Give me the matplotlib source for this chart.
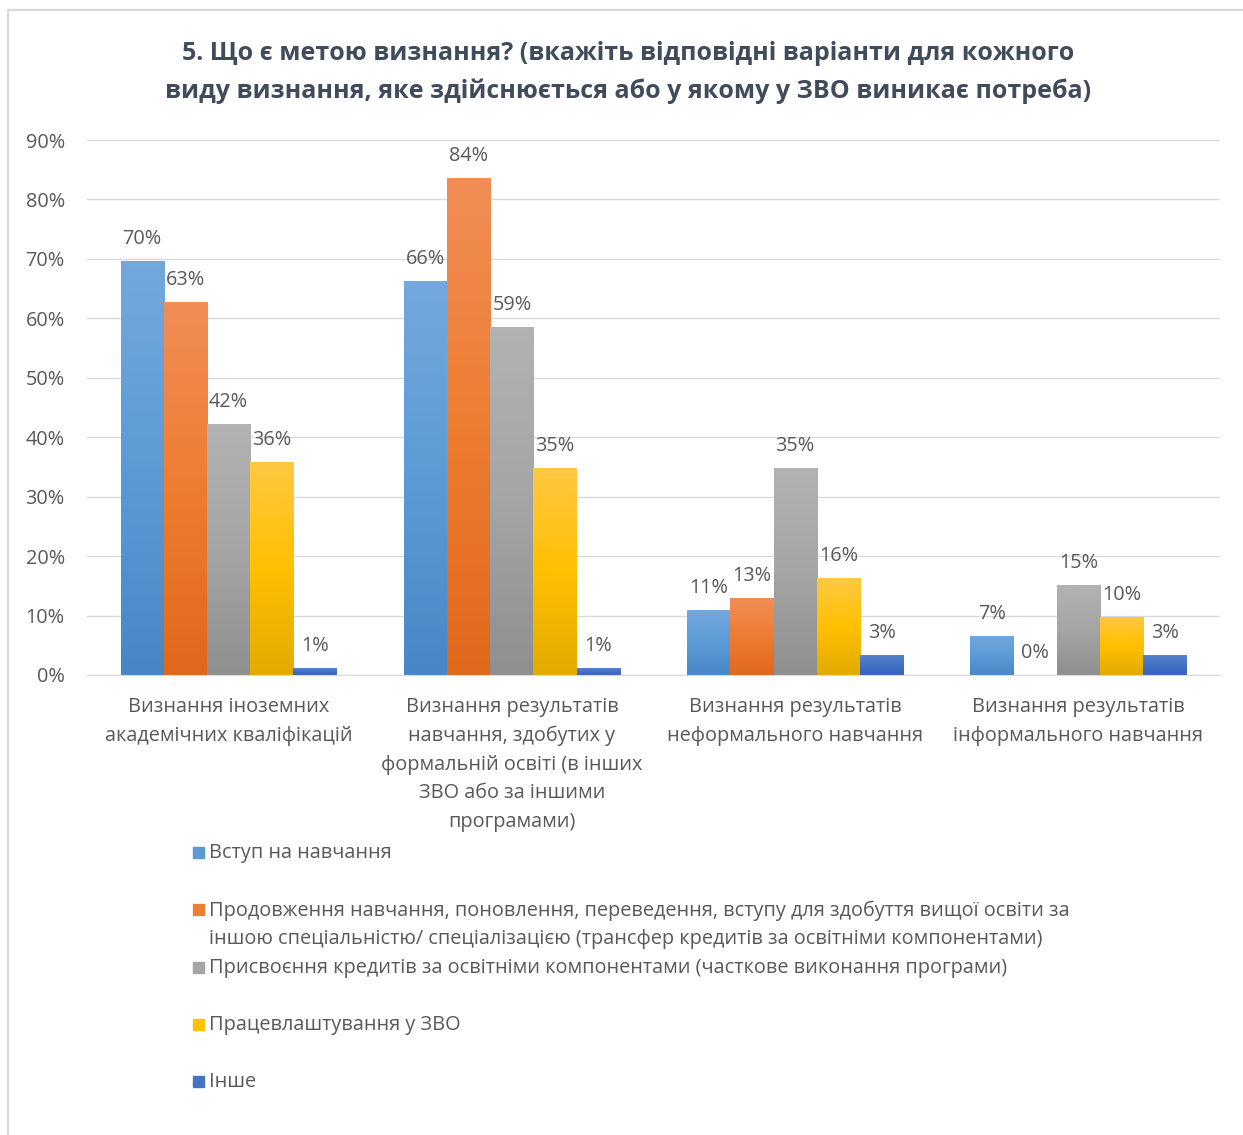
import numpy as np
import matplotlib
matplotlib.use('Agg')
import matplotlib.pyplot as plt
from matplotlib.colors import LinearSegmentedColormap
from matplotlib.patches import Rectangle
from matplotlib.lines import Line2D

plt.rcParams['font.family'] = ['Open Sans', 'DejaVu Sans']

categories = ['Визнання іноземних\nакадемічних кваліфікацій',
              'Визнання результатів\nнавчання, здобутих у\nформальній освіті (в інших\nЗВО або за іншими\nпрограмами)',
              'Визнання результатів\nнеформального навчання',
              'Визнання результатів\nінформального навчання']

series_names = ['Вступ на навчання',
                'Продовження навчання, поновлення, переведення, вступу для здобуття вищої освіти за\nіншою спеціальністю/ спеціалізацією (трансфер кредитів за освітніми компонентами)',
                'Присвоєння кредитів за освітніми компонентами (часткове виконання програми)',
                'Працевлаштування у ЗВО',
                'Інше']

vstup = [69.6, 66.3, 10.9, 6.6]
prodovzh = [62.8, 83.6, 13.0, 0.0]
kredyty = [42.2, 58.6, 34.8, 15.1]
pratsia = [35.9, 34.8, 16.3, 9.8]
inshe = [1.2, 1.2, 3.4, 3.4]
data = [vstup, prodovzh, kredyty, pratsia, inshe]

# base, top (light), bottom (dark)
colors = ['#5B9BD5', '#ED7D31', '#A5A5A5', '#FFC000', '#4472C4']
tops = ['#74a8dd', '#f18d55', '#b2b2b2', '#ffc843', '#5a85d0']
bottoms = ['#4787c6', '#e0681b', '#8f8f8f', '#e2ab00', '#3563be']

txt = '#595959'
fs = 14.3
W, H = 1243, 1135

fig = plt.figure(figsize=(W / 100, H / 100), dpi=100)
ax = fig.add_axes([87 / W, 1 - 675 / H, (1220 - 87) / W, (675 - 140) / H])

x = np.arange(len(categories))
width = 0.763 / 5

for i, vals in enumerate(data):
    bars = ax.bar(x + (i - 2) * width, vals, width, color=colors[i], zorder=2)
    cmap = LinearSegmentedColormap.from_list('g%d' % i, [bottoms[i], colors[i], tops[i]])
    grad = np.linspace(0, 1, 64).reshape(-1, 1)
    for rect, v in zip(bars, vals):
        if v > 0:
            im = ax.imshow(grad, extent=[rect.get_x(), rect.get_x() + rect.get_width(), 0, v],
                           aspect='auto', origin='lower', cmap=cmap, zorder=2.5)
            im.set_clip_path(rect)
        ax.annotate('%d%%' % round(v), (rect.get_x() + rect.get_width() / 2, v),
                    xytext=(0, 8.5), textcoords='offset points', ha='center', va='bottom',
                    fontsize=fs, color=txt)

ax.set_xlim(-0.5, len(categories) - 0.5)
ax.set_ylim(0, 90)
ax.set_yticks(np.arange(0, 91, 10))
ax.set_yticklabels(['%d%%' % t for t in range(0, 91, 10)])
ax.set_xticks(x)
ax.set_xticklabels(categories)
for lbl in ax.get_xticklabels():
    lbl.set_linespacing(1.56)
ax.tick_params(axis='both', length=0, labelsize=fs, colors=txt)
ax.tick_params(axis='y', pad=16)
ax.tick_params(axis='x', pad=16)
ax.grid(axis='y', color='#d9d9d9', linewidth=1, zorder=0)
for s in ['top', 'right', 'left']:
    ax.spines[s].set_visible(False)
ax.spines['bottom'].set_color('#d9d9d9')
ax.set_axisbelow(True)

fig.text(628 / W, 1 - 72.5 / H, '5. Що є метою визнання? (вкажіть відповідні варіанти для кожного\nвиду визнання, яке здійснюється або у якому у ЗВО виникає потреба)',
         ha='center', va='center', fontsize=18, fontweight='bold', color='#404b5c',
         linespacing=1.68)

# legend
for i, name in enumerate(series_names):
    yc = 852 + 57.3 * i
    fig.patches.append(Rectangle((193 / W, 1 - (yc + 6) / H), 11 / W, 11 / H,
                                 transform=fig.transFigure, color=colors[i]))
    fig.text(209 / W, 1 - (yc - 9) / H, name, ha='left', va='top', fontsize=fs,
             color=txt, linespacing=1.56)

# chart border
fig.add_artist(Line2D([8 / W, 8 / W], [0, 1 - 10 / H], color='#d9d9d9', lw=1.5))
fig.add_artist(Line2D([8 / W, 1], [1 - 10 / H, 1 - 10 / H], color='#d9d9d9', lw=1.5))

fig.savefig('out.png', dpi=100, facecolor='white')
